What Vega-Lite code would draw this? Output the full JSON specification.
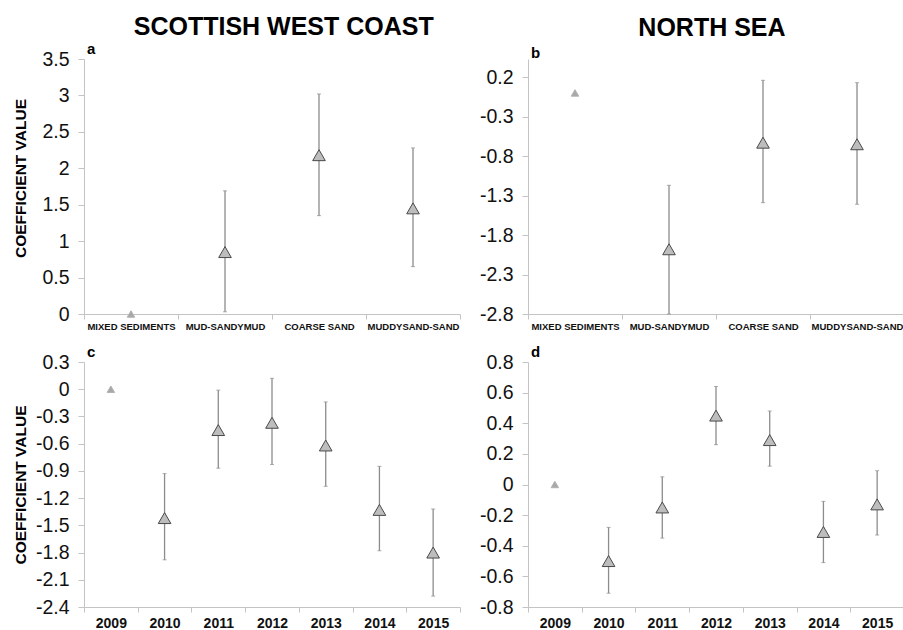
{
  "$schema": "https://vega.github.io/schema/vega-lite/v6.json",
  "background": "white",
  "padding": {"left": 13, "top": 15, "right": 0, "bottom": 0},
  "datasets": {
    "sw_sed": [
      {"habitat": "MIXED SEDIMENTS", "coef": 0, "lo": null, "hi": null, "reference": true},
      {"habitat": "MUD-SANDYMUD", "coef": 0.85, "lo": 0.03, "hi": 1.69, "reference": false},
      {"habitat": "COARSE SAND", "coef": 2.18, "lo": 1.35, "hi": 3.02, "reference": false},
      {"habitat": "MUDDYSAND-SAND", "coef": 1.45, "lo": 0.65, "hi": 2.28, "reference": false}
    ],
    "ns_sed": [
      {"habitat": "MIXED SEDIMENTS", "coef": 0, "lo": null, "hi": null, "reference": true},
      {"habitat": "MUD-SANDYMUD", "coef": -1.98, "lo": -2.8, "hi": -1.17, "reference": false},
      {"habitat": "COARSE SAND", "coef": -0.63, "lo": -1.39, "hi": 0.16, "reference": false},
      {"habitat": "MUDDYSAND-SAND", "coef": -0.65, "lo": -1.41, "hi": 0.13, "reference": false}
    ],
    "sw_year": [
      {"year": "2009", "coef": 0, "lo": null, "hi": null, "reference": true},
      {"year": "2010", "coef": -1.42, "lo": -1.88, "hi": -0.93, "reference": false},
      {"year": "2011", "coef": -0.45, "lo": -0.87, "hi": -0.01, "reference": false},
      {"year": "2012", "coef": -0.37, "lo": -0.83, "hi": 0.12, "reference": false},
      {"year": "2013", "coef": -0.62, "lo": -1.07, "hi": -0.14, "reference": false},
      {"year": "2014", "coef": -1.33, "lo": -1.78, "hi": -0.85, "reference": false},
      {"year": "2015", "coef": -1.8, "lo": -2.28, "hi": -1.32, "reference": false}
    ],
    "ns_year": [
      {"year": "2009", "coef": 0, "lo": null, "hi": null, "reference": true},
      {"year": "2010", "coef": -0.5, "lo": -0.71, "hi": -0.28, "reference": false},
      {"year": "2011", "coef": -0.15, "lo": -0.35, "hi": 0.05, "reference": false},
      {"year": "2012", "coef": 0.45, "lo": 0.26, "hi": 0.64, "reference": false},
      {"year": "2013", "coef": 0.29, "lo": 0.12, "hi": 0.48, "reference": false},
      {"year": "2014", "coef": -0.31, "lo": -0.51, "hi": -0.11, "reference": false},
      {"year": "2015", "coef": -0.13, "lo": -0.33, "hi": 0.09, "reference": false}
    ]
  },
  "config": {
    "font": "Liberation Sans",
    "view": {"stroke": null},
    "axis": {
      "grid": false,
      "domainColor": "#c4c4c4",
      "tickColor": "#c4c4c4",
      "tickSize": 6,
      "labelColor": "#111111",
      "labelFont": "Liberation Sans",
      "titleFont": "Liberation Sans",
      "labelOverlap": false
    },
    "axisY": {
      "labelFontSize": 19.5,
      "labelPadding": 9,
      "titleFontSize": 15.5,
      "titleFontWeight": "bold",
      "titleColor": "#000000",
      "titlePadding": 8,
      "minExtent": 48,
      "maxExtent": 48,
      "labelExpr": "replace(datum.label, '\u2212', '-')"
    },
    "axisX": {
      "labelFontWeight": "bold",
      "labelAngle": 0,
      "tickBand": "extent",
      "tickSize": 5,
      "title": null
    },
    "title": {
      "font": "Liberation Sans",
      "fontWeight": "bold",
      "color": "#000000"
    }
  },
  "spacing": 18,
  "hconcat": [
    {
      "title": {"text": "SCOTTISH WEST COAST", "fontSize": 25, "anchor": "middle", "dx": 47, "offset": 2},
      "spacing": 14,
      "vconcat": [
        {
          "data": {"name": "sw_sed"},
          "width": 376,
          "height": 255,
          "title": {"text": "a", "anchor": "start", "frame": "group", "fontSize": 15, "dx": 3, "offset": -8},
          "encoding": {
            "x": {"field": "habitat", "type": "nominal", "sort": ["MIXED SEDIMENTS", "MUD-SANDYMUD", "COARSE SAND", "MUDDYSAND-SAND"], "scale": {"paddingInner": 0, "paddingOuter": 0}, "axis": {"labelFontSize": 9.5, "labelPadding": 2}}
          },
          "layer": [
            {
              "transform": [{"filter": "datum.lo != null"}],
              "mark": {"type": "rule", "color": "#8c8c8c", "strokeWidth": 1.3},
              "encoding": {
                "y": {"field": "lo", "type": "quantitative", "scale": {"domain": [0, 3.5], "nice": false, "zero": false}, "axis": {"title": "COEFFICIENT VALUE", "titleY": 119, "values": [0, 0.5, 1, 1.5, 2, 2.5, 3, 3.5], "format": "~g"}},
                "y2": {"field": "hi"}
              }
            },
            {
              "transform": [{"filter": "datum.lo != null"}],
              "mark": {"type": "tick", "color": "#8c8c8c", "size": 4, "thickness": 1},
              "encoding": {"y": {"field": "lo", "type": "quantitative", "scale": {"domain": [0, 3.5], "nice": false, "zero": false}, "axis": {"title": "COEFFICIENT VALUE", "titleY": 119, "values": [0, 0.5, 1, 1.5, 2, 2.5, 3, 3.5], "format": "~g"}}}
            },
            {
              "transform": [{"filter": "datum.lo != null"}],
              "mark": {"type": "tick", "color": "#8c8c8c", "size": 4, "thickness": 1},
              "encoding": {"y": {"field": "hi", "type": "quantitative", "scale": {"domain": [0, 3.5], "nice": false, "zero": false}, "axis": {"title": "COEFFICIENT VALUE", "titleY": 119, "values": [0, 0.5, 1, 1.5, 2, 2.5, 3, 3.5], "format": "~g"}}}
            },
            {
              "mark": {"type": "point", "shape": "triangle-up", "filled": true, "opacity": 1},
              "encoding": {
                "y": {"field": "coef", "type": "quantitative", "scale": {"domain": [0, 3.5], "nice": false, "zero": false}, "axis": {"title": "COEFFICIENT VALUE", "titleY": 119, "values": [0, 0.5, 1, 1.5, 2, 2.5, 3, 3.5], "format": "~g"}},
                "size": {"condition": {"test": "datum.reference", "value": 55}, "value": 160},
                "fill": {"condition": {"test": "datum.reference", "value": "#a8a8a8"}, "value": "#bdbdbd"},
                "stroke": {"condition": {"test": "datum.reference", "value": "#b0b0b0"}, "value": "#4a4a4a"},
                "strokeWidth": {"value": 1}
              }
            }
          ]
        },
        {
          "data": {"name": "sw_year"},
          "width": 376,
          "height": 245,
          "title": {"text": "c", "anchor": "start", "frame": "group", "fontSize": 15, "dx": 3, "offset": -8},
          "encoding": {
            "x": {"field": "year", "type": "nominal", "sort": ["2009", "2010", "2011", "2012", "2013", "2014", "2015"], "scale": {"paddingInner": 0, "paddingOuter": 0}, "axis": {"labelFontSize": 14, "labelPadding": 4}}
          },
          "layer": [
            {
              "transform": [{"filter": "datum.lo != null"}],
              "mark": {"type": "rule", "color": "#8c8c8c", "strokeWidth": 1.3},
              "encoding": {
                "y": {"field": "lo", "type": "quantitative", "scale": {"domain": [-2.4, 0.3], "nice": false, "zero": false}, "axis": {"title": "COEFFICIENT VALUE", "values": [-2.4, -2.1, -1.8, -1.5, -1.2, -0.9, -0.6, -0.3, 0, 0.3], "format": "~g"}},
                "y2": {"field": "hi"}
              }
            },
            {
              "transform": [{"filter": "datum.lo != null"}],
              "mark": {"type": "tick", "color": "#8c8c8c", "size": 4, "thickness": 1},
              "encoding": {"y": {"field": "lo", "type": "quantitative", "scale": {"domain": [-2.4, 0.3], "nice": false, "zero": false}, "axis": {"title": "COEFFICIENT VALUE", "values": [-2.4, -2.1, -1.8, -1.5, -1.2, -0.9, -0.6, -0.3, 0, 0.3], "format": "~g"}}}
            },
            {
              "transform": [{"filter": "datum.lo != null"}],
              "mark": {"type": "tick", "color": "#8c8c8c", "size": 4, "thickness": 1},
              "encoding": {"y": {"field": "hi", "type": "quantitative", "scale": {"domain": [-2.4, 0.3], "nice": false, "zero": false}, "axis": {"title": "COEFFICIENT VALUE", "values": [-2.4, -2.1, -1.8, -1.5, -1.2, -0.9, -0.6, -0.3, 0, 0.3], "format": "~g"}}}
            },
            {
              "mark": {"type": "point", "shape": "triangle-up", "filled": true, "opacity": 1},
              "encoding": {
                "y": {"field": "coef", "type": "quantitative", "scale": {"domain": [-2.4, 0.3], "nice": false, "zero": false}, "axis": {"title": "COEFFICIENT VALUE", "values": [-2.4, -2.1, -1.8, -1.5, -1.2, -0.9, -0.6, -0.3, 0, 0.3], "format": "~g"}},
                "size": {"condition": {"test": "datum.reference", "value": 55}, "value": 160},
                "fill": {"condition": {"test": "datum.reference", "value": "#a8a8a8"}, "value": "#bdbdbd"},
                "stroke": {"condition": {"test": "datum.reference", "value": "#b0b0b0"}, "value": "#4a4a4a"},
                "strokeWidth": {"value": 1}
              }
            }
          ]
        }
      ]
    },
    {
      "title": {"text": "NORTH SEA", "fontSize": 25, "anchor": "middle", "dx": 20, "offset": 5},
      "spacing": 14,
      "vconcat": [
        {
          "data": {"name": "ns_sed"},
          "width": 376,
          "height": 255,
          "title": {"text": "b", "anchor": "start", "frame": "group", "fontSize": 15, "dx": 3, "offset": -2},
          "encoding": {
            "x": {"field": "habitat", "type": "nominal", "sort": ["MIXED SEDIMENTS", "MUD-SANDYMUD", "COARSE SAND", "MUDDYSAND-SAND"], "scale": {"paddingInner": 0, "paddingOuter": 0}, "axis": {"labelFontSize": 9.5, "labelPadding": 2}}
          },
          "layer": [
            {
              "transform": [{"filter": "datum.lo != null"}],
              "mark": {"type": "rule", "color": "#8c8c8c", "strokeWidth": 1.3},
              "encoding": {
                "y": {"field": "lo", "type": "quantitative", "scale": {"domain": [-2.8, 0.43], "nice": false, "zero": false}, "axis": {"title": null, "values": [-2.8, -2.3, -1.8, -1.3, -0.8, -0.3, 0.2], "format": "~g"}},
                "y2": {"field": "hi"}
              }
            },
            {
              "transform": [{"filter": "datum.lo != null"}],
              "mark": {"type": "tick", "color": "#8c8c8c", "size": 4, "thickness": 1},
              "encoding": {"y": {"field": "lo", "type": "quantitative", "scale": {"domain": [-2.8, 0.43], "nice": false, "zero": false}, "axis": {"title": null, "values": [-2.8, -2.3, -1.8, -1.3, -0.8, -0.3, 0.2], "format": "~g"}}}
            },
            {
              "transform": [{"filter": "datum.lo != null"}],
              "mark": {"type": "tick", "color": "#8c8c8c", "size": 4, "thickness": 1},
              "encoding": {"y": {"field": "hi", "type": "quantitative", "scale": {"domain": [-2.8, 0.43], "nice": false, "zero": false}, "axis": {"title": null, "values": [-2.8, -2.3, -1.8, -1.3, -0.8, -0.3, 0.2], "format": "~g"}}}
            },
            {
              "mark": {"type": "point", "shape": "triangle-up", "filled": true, "opacity": 1},
              "encoding": {
                "y": {"field": "coef", "type": "quantitative", "scale": {"domain": [-2.8, 0.43], "nice": false, "zero": false}, "axis": {"title": null, "values": [-2.8, -2.3, -1.8, -1.3, -0.8, -0.3, 0.2], "format": "~g"}},
                "size": {"condition": {"test": "datum.reference", "value": 55}, "value": 160},
                "fill": {"condition": {"test": "datum.reference", "value": "#a8a8a8"}, "value": "#bdbdbd"},
                "stroke": {"condition": {"test": "datum.reference", "value": "#b0b0b0"}, "value": "#4a4a4a"},
                "strokeWidth": {"value": 1}
              }
            }
          ]
        },
        {
          "data": {"name": "ns_year"},
          "width": 376,
          "height": 245,
          "title": {"text": "d", "anchor": "start", "frame": "group", "fontSize": 15, "dx": 3, "offset": -8},
          "encoding": {
            "x": {"field": "year", "type": "nominal", "sort": ["2009", "2010", "2011", "2012", "2013", "2014", "2015"], "scale": {"paddingInner": 0, "paddingOuter": 0}, "axis": {"labelFontSize": 14, "labelPadding": 4}}
          },
          "layer": [
            {
              "transform": [{"filter": "datum.lo != null"}],
              "mark": {"type": "rule", "color": "#8c8c8c", "strokeWidth": 1.3},
              "encoding": {
                "y": {"field": "lo", "type": "quantitative", "scale": {"domain": [-0.8, 0.8], "nice": false, "zero": false}, "axis": {"title": null, "values": [-0.8, -0.6, -0.4, -0.2, 0, 0.2, 0.4, 0.6, 0.8], "format": "~g"}},
                "y2": {"field": "hi"}
              }
            },
            {
              "transform": [{"filter": "datum.lo != null"}],
              "mark": {"type": "tick", "color": "#8c8c8c", "size": 4, "thickness": 1},
              "encoding": {"y": {"field": "lo", "type": "quantitative", "scale": {"domain": [-0.8, 0.8], "nice": false, "zero": false}, "axis": {"title": null, "values": [-0.8, -0.6, -0.4, -0.2, 0, 0.2, 0.4, 0.6, 0.8], "format": "~g"}}}
            },
            {
              "transform": [{"filter": "datum.lo != null"}],
              "mark": {"type": "tick", "color": "#8c8c8c", "size": 4, "thickness": 1},
              "encoding": {"y": {"field": "hi", "type": "quantitative", "scale": {"domain": [-0.8, 0.8], "nice": false, "zero": false}, "axis": {"title": null, "values": [-0.8, -0.6, -0.4, -0.2, 0, 0.2, 0.4, 0.6, 0.8], "format": "~g"}}}
            },
            {
              "mark": {"type": "point", "shape": "triangle-up", "filled": true, "opacity": 1},
              "encoding": {
                "y": {"field": "coef", "type": "quantitative", "scale": {"domain": [-0.8, 0.8], "nice": false, "zero": false}, "axis": {"title": null, "values": [-0.8, -0.6, -0.4, -0.2, 0, 0.2, 0.4, 0.6, 0.8], "format": "~g"}},
                "size": {"condition": {"test": "datum.reference", "value": 55}, "value": 160},
                "fill": {"condition": {"test": "datum.reference", "value": "#a8a8a8"}, "value": "#bdbdbd"},
                "stroke": {"condition": {"test": "datum.reference", "value": "#b0b0b0"}, "value": "#4a4a4a"},
                "strokeWidth": {"value": 1}
              }
            }
          ]
        }
      ]
    }
  ]
}
